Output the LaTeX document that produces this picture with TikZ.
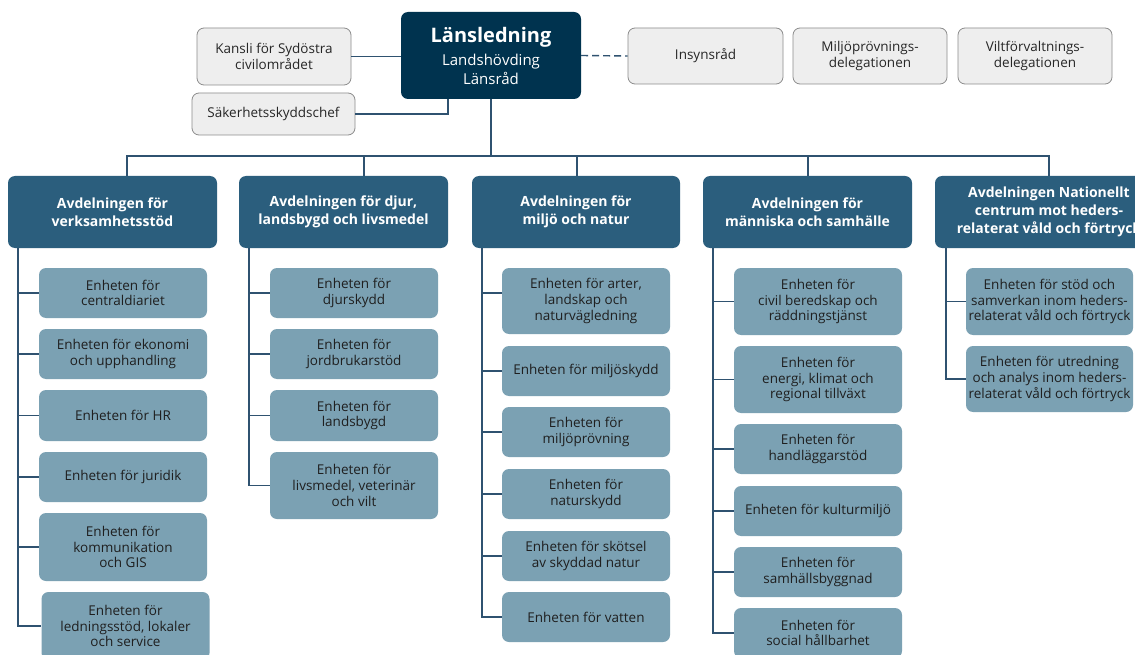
\documentclass[tikz,border=0pt]{standalone}
\usepackage{fontspec}
\setmainfont{Open Sans}
\usepackage{tikz}
\definecolor{topblue}{HTML}{00334F}
\definecolor{avdblue}{HTML}{2B5E7D}
\definecolor{enhblue}{HTML}{7BA1B3}
\definecolor{linkblue}{HTML}{2F5270}
\definecolor{sidegrey}{HTML}{EEEEEE}
\newcommand{\linkwidth}{1.4pt}
\newcommand{\boxround}{7pt}
\tikzset{
  ledning/.style={fill=topblue, text=white, rounded corners=\boxround, align=center, inner sep=0pt,
    font=\fontsize{15pt}{19pt}\selectfont},
  avd/.style={fill=avdblue, text=white, rounded corners=\boxround, align=center, inner sep=0pt,
    minimum height=72pt, font=\bfseries\fontsize{14pt}{17.7pt}\selectfont},
  enhet/.style={fill=enhblue, text=black!88, rounded corners=\boxround, align=center, inner sep=0pt,
    minimum width=168pt, font=\fontsize{13.5pt}{15.7pt}\selectfont},
  sidebox/.style={draw=black!45, fill=sidegrey, line width=0.8pt, rounded corners=\boxround, align=center,
    inner sep=0pt, minimum height=56pt, text=black!85, font=\fontsize{13.5pt}{15.7pt}\selectfont},
  link/.style={draw=linkblue, line width=\linkwidth},
}

\begin{document}
\begin{tikzpicture}[x=1pt,y=-1pt]
\useasboundingbox (0,0) rectangle (1135,655);
\clip (0,0) rectangle (1135,655);
\fill[white] (0,0) rectangle (1135,655);
%ledning
\node[ledning] (lans) at (491,55.5) [minimum width=180pt, minimum height=87pt]
  {{\bfseries\fontsize{20pt}{24pt}\selectfont Länsledning}\\[4pt]Landshövding\\Länsråd};
\node[sidebox] (kansli) at (274,56.5) [minimum width=154pt, minimum height=57pt] {Kansli för Sydöstra\\civilområdet};
\node[sidebox] (sakerhet) at (273.5,114) [minimum width=163pt, minimum height=42pt] {Säkerhetsskyddschef};
\node[sidebox] (insyn) at (705.5,56) [minimum width=155pt] {Insynsråd};
\node[sidebox] (miljodel) at (870,56) [minimum width=154pt] {Miljöprövnings-\\delegationen};
\node[sidebox] (viltdel) at (1035,56) [minimum width=154pt] {Viltförvaltnings-\\delegationen};
\coordinate (sakx) at (448,0);
\draw[link] (kansli.east) -- (kansli.east -| lans.west);
\draw[link] (sakerhet.east) -| (sakx |- lans.south);
\draw[link, dash pattern=on 7pt off 4pt] (lans.east) -- (insyn.west);
%avdelningar
\node[avd] (d1) at (112.5,212) [minimum width=209pt] {Avdelningen för\\verksamhetsstöd};
\node[avd] (d2) at (343.5,212) [minimum width=209pt] {Avdelningen för djur,\\landsbygd och livsmedel};
\node[avd] (d3) at (576,212) [minimum width=208pt] {Avdelningen för\\miljö och natur};
\node[avd] (d4) at (807.5,212) [minimum width=209pt] {Avdelningen för\\människa och samhälle};
\node[avd] (d5) at (1049,212) [minimum width=228pt] {Avdelningen Nationellt\\centrum mot heders-\\relaterat våld och förtryck};
\coordinate (b1) at (127,156);
\coordinate (b2) at (364,156);
\coordinate (b3) at (577,156);
\coordinate (b4) at (808,156);
\coordinate (b5) at (1049,156);
\draw[link] (lans.south) -- (lans.south |- b3);
\draw[link] (d1.north -| b1) -- (b1) -- (b5) -- (d5.north -| b5);
\draw[link] (b2) -- (d2.north -| b2);
\draw[link] (b3) -- (d3.north -| b3);
\draw[link] (b4) -- (d4.north -| b4);
%verksamhetsstod
\node[enhet] (u11) at (123,293) [minimum height=50pt] {Enheten för\\centraldiariet};
\node[enhet] (u12) at (123,354) [minimum height=50pt] {Enheten för ekonomi\\och upphandling};
\node[enhet] (u13) at (123,415.5) [minimum height=51pt] {Enheten för HR};
\node[enhet] (u14) at (123,477) [minimum height=50pt] {Enheten för juridik};
\node[enhet] (u15) at (123,547) [minimum height=68pt] {Enheten för\\kommunikation\\och GIS};
\node[enhet] (u16) at (125.5,626) [minimum height=68pt] {Enheten för\\ledningsstöd, lokaler\\och service};
\coordinate (s1) at (18,248);
\draw[link] (s1) |- (u11.west);
\draw[link] (s1) |- (u12.west);
\draw[link] (s1) |- (u13.west);
\draw[link] (s1) |- (u14.west);
\draw[link] (s1) |- (u15.west);
\draw[link] (s1) |- (u16.west);
%djur landsbygd livsmedel
\node[enhet] (u21) at (354,293) [minimum height=50pt] {Enheten för\\djurskydd};
\node[enhet] (u22) at (354,354) [minimum height=50pt] {Enheten för\\jordbrukarstöd};
\node[enhet] (u23) at (354,415.5) [minimum height=51pt] {Enheten för\\landsbygd};
\node[enhet] (u24) at (354,485.5) [minimum height=67pt] {Enheten för\\livsmedel, veterinär\\och vilt};
\coordinate (s2) at (249,248);
\draw[link] (s2) |- (u21.west);
\draw[link] (s2) |- (u22.west);
\draw[link] (s2) |- (u23.west);
\draw[link] (s2) |- (u24.west);
%miljo natur
\node[enhet] (u31) at (586,301) [minimum height=66pt] {Enheten för arter,\\landskap och\\naturvägledning};
\node[enhet] (u32) at (586,371) [minimum height=50pt] {Enheten för miljöskydd};
\node[enhet] (u33) at (586,432) [minimum height=50pt] {Enheten för\\miljöprövning};
\node[enhet] (u34) at (586,494) [minimum height=50pt] {Enheten för\\naturskydd};
\node[enhet] (u35) at (586,556) [minimum height=50pt] {Enheten för skötsel\\av skyddad natur};
\node[enhet] (u36) at (586,617) [minimum height=50pt] {Enheten för vatten};
\coordinate (s3) at (482,248);
\draw[link] (s3) |- ([yshift=8pt]u31.west);
\draw[link] (s3) |- (u32.west);
\draw[link] (s3) |- (u33.west);
\draw[link] (s3) |- (u34.west);
\draw[link] (s3) |- (u35.west);
\draw[link] (s3) |- (u36.west);
%manniska samhalle
\node[enhet] (u41) at (818,301.5) [minimum height=67pt] {Enheten för\\civil beredskap och\\räddningstjänst};
\node[enhet] (u42) at (818,379.5) [minimum height=67pt] {Enheten för\\energi, klimat och\\regional tillväxt};
\node[enhet] (u43) at (818,449) [minimum height=50pt] {Enheten för\\handläggarstöd};
\node[enhet] (u44) at (818,511) [minimum height=50pt] {Enheten för kulturmiljö};
\node[enhet] (u45) at (818,572) [minimum height=50pt] {Enheten för\\samhällsbyggnad};
\node[enhet] (u46) at (818,633) [minimum height=50pt] {Enheten för\\social hållbarhet};
\coordinate (s4) at (713,248);
\draw[link] (s4) |- (u41.west);
\draw[link] (s4) |- (u42.west);
\draw[link] (s4) |- (u43.west);
\draw[link] (s4) |- (u44.west);
\draw[link] (s4) |- (u45.west);
\draw[link] (s4) |- (u46.west);
%heders
\node[enhet] (u51) at (1049.5,301.5) [minimum height=67pt, minimum width=167pt] {Enheten för stöd och\\samverkan inom heders-\\relaterat våld och förtryck};
\node[enhet] (u52) at (1049.5,379) [minimum height=66pt, minimum width=167pt] {Enheten för utredning\\och analys inom heders-\\relaterat våld och förtryck};
\coordinate (s5) at (946,248);
\draw[link] (s5) |- (u51.west);
\draw[link] (s5) |- (u52.west);
\end{tikzpicture}
\end{document}
